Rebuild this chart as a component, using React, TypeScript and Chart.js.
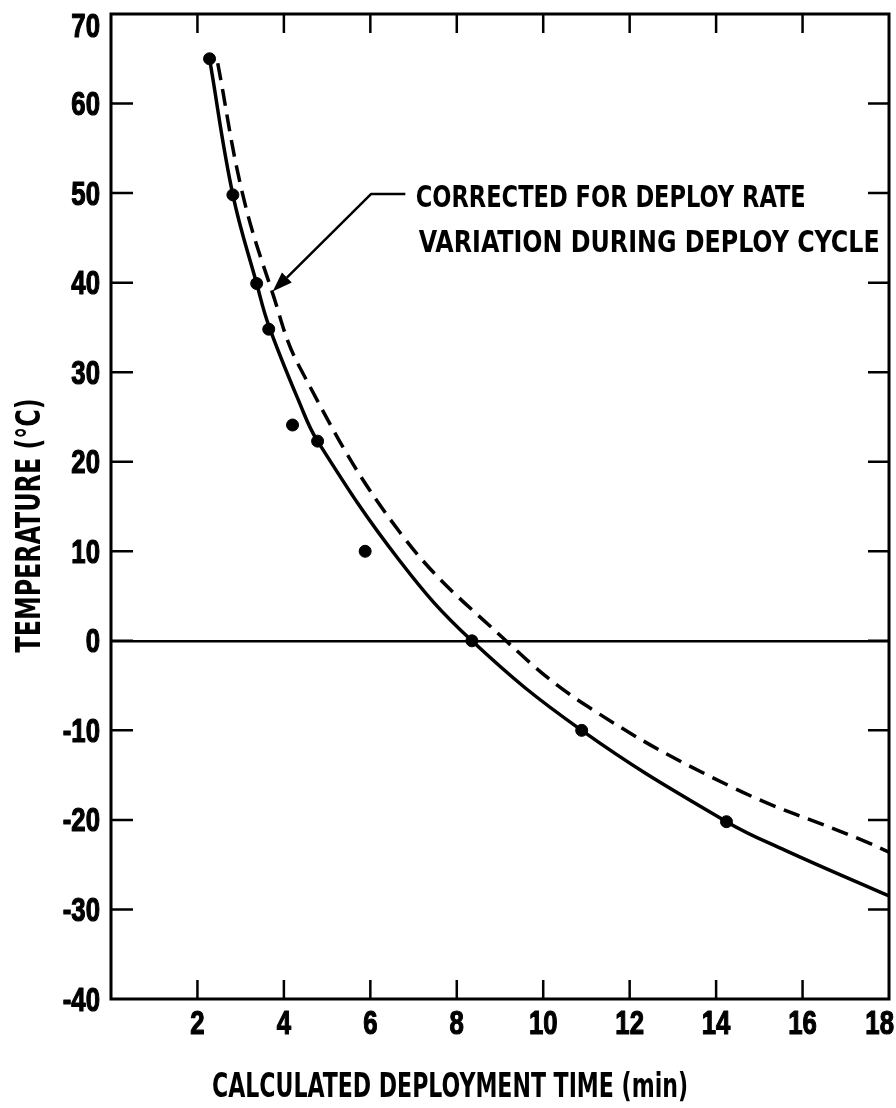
import React, { useEffect, useRef } from 'react';
import { Chart, registerables } from 'chart.js';

Chart.register(...registerables);

// ---- data ----
const xTickValues = [2, 4, 6, 8, 10, 12, 14, 16, 18];
const yTickValues = [70, 60, 50, 40, 30, 20, 10, 0, -10, -20, -30, -40];

// measured points (filled circles)
const measuredTime = [2.28, 2.82, 3.37, 3.65, 4.2, 4.78, 5.88, 8.35, 10.89, 14.24];
const measuredTemp = [65, 49.8, 39.9, 34.8, 24.1, 22.3, 10, 0, -10, -20.2];

// solid fitted curve
const fitTime = [2.28, 2.82, 3.37, 3.65, 4.36, 4.78, 6.67, 8.35, 10.89, 14.24, 15.6, 18];
const fitTemp = [65, 49.8, 39.9, 35.2, 26.6, 22.3, 9.0, 0, -10, -20.2, -23.4, -28.5];

// dashed curve: corrected for deploy rate variation
const correctedTime = [2.47, 3.05, 3.74, 4.36, 6.67, 9.14, 11.05, 14.35, 17.35, 18];
const correctedTemp = [64.5, 49.8, 38.8, 30.6, 12.2, 0, -7.4, -16.3, -22.2, -23.6];

// text
const yTitle = 'TEMPERATURE (°C)';
const xTitle = 'CALCULATED DEPLOYMENT TIME (min)';
const noteLines = ['CORRECTED FOR DEPLOY RATE', 'VARIATION DURING DEPLOY CYCLE'];

// annotation anchors in data coordinates
const arrowTip = { x: 3.74, y: 39.0 };
const leaderElbow = { x: 6.02, y: 49.9 };
const leaderEnd = { x: 6.81, y: 49.9 };
const noteAnchors = [
  { x: 7.05, y: 48.45, w: 390 },
  { x: 7.12, y: 43.4, w: 461 },
];

const FONT = "'Liberation Sans Narrow', 'DejaVu Sans Condensed', 'Roboto Condensed', 'Liberation Sans', Arial, sans-serif";
const TICK_FONT = "bold 33px 'Liberation Sans', Arial, sans-serif";
const TICK_SX = 0.78;
const CAP = 23;

const frame = {
  id: 'frame',
  afterDraw(chart: any) {
    const { ctx, chartArea } = chart;
    const xs = chart.scales.x;
    const ys = chart.scales.y;
    const { left, right, top, bottom } = chartArea;
    ctx.save();
    ctx.strokeStyle = '#000';
    ctx.fillStyle = '#000';
    ctx.lineCap = 'butt';

    // box
    ctx.lineWidth = 3;
    ctx.strokeRect(left, top, right - left, bottom - top);

    // inward ticks
    ctx.lineWidth = 2.5;
    ctx.beginPath();
    xs.ticks.forEach((t: any) => {
      if (t.value >= xs.max || t.value <= xs.min) return;
      const px = xs.getPixelForValue(t.value);
      ctx.moveTo(px, bottom);
      ctx.lineTo(px, bottom - 19);
      ctx.moveTo(px, top);
      ctx.lineTo(px, top + 19);
    });
    ys.ticks.forEach((t: any) => {
      if (t.value >= ys.max || t.value <= ys.min) return;
      const py = ys.getPixelForValue(t.value);
      ctx.moveTo(left, py);
      ctx.lineTo(left + 22, py);
      ctx.moveTo(right, py);
      ctx.lineTo(right - 21, py);
    });
    ctx.stroke();

    // tick labels (condensed, heavy)
    ctx.font = TICK_FONT;
    ctx.textBaseline = 'alphabetic';
    ctx.lineWidth = 1.2;
    ctx.lineJoin = 'round';
    const drawLabel = (label: string, x: number, y: number, align: CanvasTextAlign) => {
      ctx.save();
      ctx.translate(x, y);
      ctx.scale(TICK_SX, 1);
      ctx.textAlign = align;
      ctx.fillText(label, 0, 0);
      ctx.strokeText(label, 0, 0);
      ctx.restore();
    };
    ys.ticks.forEach((t: any) => {
      const label = t.label != null ? String(t.label) : String(t.value);
      const py = ys.getPixelForValue(t.value);
      const base = Math.max(py + CAP / 2, top + CAP);
      drawLabel(label, left - 11, base, 'right');
    });
    xs.ticks.forEach((t: any) => {
      const label = t.label != null ? String(t.label) : String(t.value);
      const px = xs.getPixelForValue(t.value);
      const w = ctx.measureText(label).width * TICK_SX;
      const cx = Math.min(px, chart.width - 2 - w / 2);
      drawLabel(label, cx, bottom + 35, 'center');
    });

    // axis titles
    ctx.font = `bold 33px ${FONT}`;
    ctx.textBaseline = 'alphabetic';
    ctx.textAlign = 'center';
    ctx.fillText(xTitle, (left + right) / 2 - 50, bottom + 98, 476);
    ctx.save();
    ctx.translate(40, (top + bottom) / 2 + 19);
    ctx.rotate(-Math.PI / 2);
    ctx.fillText(yTitle, 0, 0, 254);
    ctx.restore();

    // annotation text
    ctx.font = `bold 30px ${FONT}`;
    ctx.textAlign = 'left';
    noteLines.forEach((t, i) => {
      const a = noteAnchors[i];
      ctx.fillText(t, xs.getPixelForValue(a.x), ys.getPixelForValue(a.y), a.w);
    });

    // leader line with arrow
    const tx = xs.getPixelForValue(arrowTip.x);
    const ty = ys.getPixelForValue(arrowTip.y);
    const ex = xs.getPixelForValue(leaderElbow.x);
    const ey = ys.getPixelForValue(leaderElbow.y);
    const lx = xs.getPixelForValue(leaderEnd.x);
    const ly = ys.getPixelForValue(leaderEnd.y);
    ctx.lineWidth = 2.5;
    ctx.beginPath();
    ctx.moveTo(lx, ly);
    ctx.lineTo(ex, ey);
    const ang = Math.atan2(ty - ey, tx - ex);
    const headLen = 20;
    const bx = tx - headLen * Math.cos(ang);
    const by = ty - headLen * Math.sin(ang);
    ctx.lineTo(bx, by);
    ctx.stroke();
    ctx.beginPath();
    const hw = 7;
    ctx.moveTo(tx, ty);
    ctx.lineTo(bx + hw * Math.sin(ang), by - hw * Math.cos(ang));
    ctx.lineTo(bx - hw * Math.sin(ang), by + hw * Math.cos(ang));
    ctx.closePath();
    ctx.fill();

    ctx.restore();
  },
};

export default function App() {
  const canvasRef = useRef<HTMLCanvasElement | null>(null);

  useEffect(() => {
    const canvas = canvasRef.current;
    if (!canvas) return;
    const fitData = fitTime.map((x, i) => ({ x, y: fitTemp[i] }));
    const corrData = correctedTime.map((x, i) => ({ x, y: correctedTemp[i] }));
    const ptsData = measuredTime.map((x, i) => ({ x, y: measuredTemp[i] }));

    const chart = new Chart(canvas, {
      type: 'line',
      data: {
        datasets: [
          {
            label: 'Measured',
            type: 'scatter',
            data: ptsData,
            showLine: false,
            pointRadius: 6,
            pointBorderWidth: 1,
            pointBackgroundColor: '#000',
            pointBorderColor: '#000',
            order: 0,
          } as any,
          {
            label: 'Fit',
            data: fitData,
            borderColor: '#000',
            borderWidth: 3.5,
            pointRadius: 0,
            tension: 0.4,
            fill: false,
            order: 1,
          },
          {
            label: 'Corrected',
            data: corrData,
            borderColor: '#000',
            borderWidth: 3.5,
            borderDash: [17, 9],
            pointRadius: 0,
            tension: 0.4,
            fill: false,
            order: 2,
          },
        ],
      },
      options: {
        animation: false,
        responsive: true,
        maintainAspectRatio: false,
        layout: { padding: { top: 14, right: 5, left: 0, bottom: 0 } },
        plugins: {
          legend: { display: false },
          tooltip: { enabled: false },
        },
        scales: {
          x: {
            type: 'linear',
            min: 0,
            max: 18,
            border: { display: false },
            grid: { display: false, drawTicks: false },
            afterBuildTicks: (scale: any) => {
              scale.ticks = xTickValues.map((v) => ({ value: v }));
            },
            afterFit: (scale: any) => {
              scale.height = 109;
              scale.paddingLeft = 0;
              scale.paddingRight = 0;
            },
            ticks: { display: false, autoSkip: false },
          },
          y: {
            type: 'linear',
            min: -40,
            max: 70,
            border: { display: false },
            grid: {
              drawTicks: false,
              color: (c: any) => (c.tick && c.tick.value === 0 ? '#000' : 'rgba(0,0,0,0)'),
              lineWidth: (c: any) => (c.tick && c.tick.value === 0 ? 2.5 : 0),
            },
            afterBuildTicks: (scale: any) => {
              scale.ticks = yTickValues.map((v) => ({ value: v }));
            },
            afterFit: (scale: any) => {
              scale.width = 111;
              scale.paddingTop = 0;
              scale.paddingBottom = 0;
            },
            ticks: { display: false, autoSkip: false },
          },
        },
      },
      plugins: [frame],
    });
    return () => chart.destroy();
  }, []);

  return (
    <div style={{ position: 'fixed', left: 0, top: 0, width: 896, height: 1108, background: '#fff' }}>
      <canvas ref={canvasRef} />
    </div>
  );
}
